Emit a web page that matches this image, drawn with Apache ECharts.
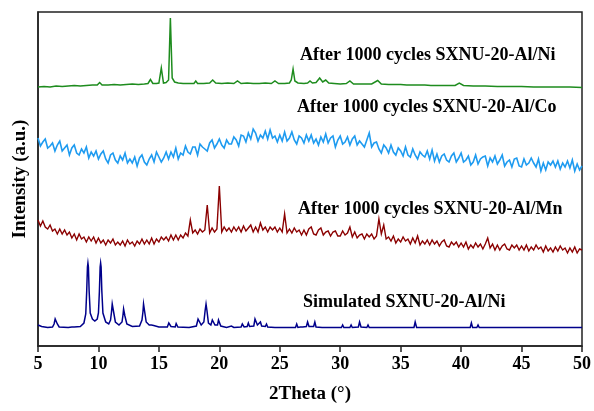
<!DOCTYPE html>
<html>
<head>
<meta charset="utf-8">
<script src="https://cdn.jsdelivr.net/npm/echarts@6/dist/echarts.min.js"></script>
<style>html,body{margin:0;padding:0;background:#fff;}#c{width:594px;height:411px;}</style>
</head>
<body>
<div id="c"></div>
<script>
// x tick labels
const xTicks = [5,10,15,20,25,30,35,40,45,50];

// sampling grid for the noisy scans (2Theta, degrees)
const scanTheta = [
5,5.2,5.4,5.6,5.8, 6,6.2,6.4,6.6,6.8, 7,7.2,7.4,7.6,7.8, 8,8.2,8.4,8.6,8.8, 9,9.2,9.4,9.6,9.8,
10,10.2,10.4,10.6,10.8, 11,11.2,11.4,11.6,11.8, 12,12.2,12.4,12.6,12.8, 13,13.2,13.4,13.6,13.8, 14,14.2,14.4,14.6,14.8,
15,15.2,15.4,15.6,15.8, 16,16.2,16.4,16.6,16.8, 17,17.2,17.4,17.6,17.8, 18,18.2,18.4,18.6,18.8, 19,19.2,19.4,19.6,19.8,
20,20.2,20.4,20.6,20.8, 21,21.2,21.4,21.6,21.8, 22,22.2,22.4,22.6,22.8, 23,23.2,23.4,23.6,23.8, 24,24.2,24.4,24.6,24.8,
25,25.2,25.4,25.6,25.8, 26,26.2,26.4,26.6,26.8, 27,27.2,27.4,27.6,27.8, 28,28.2,28.4,28.6,28.8, 29,29.2,29.4,29.6,29.8,
30,30.2,30.4,30.6,30.8, 31,31.2,31.4,31.6,31.8, 32,32.2,32.4,32.6,32.8, 33,33.2,33.4,33.6,33.8, 34,34.2,34.4,34.6,34.8,
35,35.2,35.4,35.6,35.8, 36,36.2,36.4,36.6,36.8, 37,37.2,37.4,37.6,37.8, 38,38.2,38.4,38.6,38.8, 39,39.2,39.4,39.6,39.8,
40,40.2,40.4,40.6,40.8, 41,41.2,41.4,41.6,41.8, 42,42.2,42.4,42.6,42.8, 43,43.2,43.4,43.6,43.8, 44,44.2,44.4,44.6,44.8,
45,45.2,45.4,45.6,45.8, 46,46.2,46.4,46.6,46.8, 47,47.2,47.4,47.6,47.8, 48,48.2,48.4,48.6,48.8, 49,49.2,49.4,49.6,49.8,
50];

// After 1000 cycles SXNU-20-Al/Co (offset intensity, a.u.)
const coValues = [
208,200,204,207,198, 200,203,195,201,205, 195,198,201,191,198, 201,193,191,197,193, 199,188,194,190,195,
187,192,195,187,183, 191,193,186,183,190, 186,193,183,187,183, 189,180,188,191,184, 181,187,191,184,194,
189,184,188,194,187, 194,189,198,187,193, 191,200,194,192,199, 199,191,202,199,197, 195,203,206,198,202,
207,201,198,206,202, 202,209,206,200,211, 210,204,213,207,217, 213,205,211,208,215, 207,216,208,210,204,
211,205,214,205,208, 214,206,202,210,208, 203,211,205,211,203, 207,201,209,204,212, 203,208,210,199,206,
210,202,204,209,201, 207,210,201,205,202, 199,206,213,199,203, 204,197,193,201,198, 193,201,194,191,198,
195,190,199,191,189, 197,191,187,194,191, 189,195,187,196,185, 192,184,190,192,186, 184,190,193,184,188,
193,184,186,190,181, 184,191,182,187,189, 190,180,188,184,190, 182,186,191,180,184, 186,179,187,188,180,
179,187,181,183,188, 183,179,187,175,183, 176,184,181,185,179, 185,177,183,179,185, 178,186,175,182,176,
180];

// After 1000 cycles SXNU-20-Al/Mn (offset intensity, a.u.)
const mnValues = [
126,120,125,119,117, 121,115,117,112,117, 112,116,111,114,108, 112,106,112,107,109, 104,109,105,109,103,
108,103,106,101,106, 103,107,101,104,101, 105,100,106,102,104, 100,105,102,107,102, 106,102,108,102,107,
104,109,106,109,105, 111,106,111,106,111, 108,113,110,126,113, 116,112,117,114,116, 141,113,118,114,117,
160,114,119,115,118, 114,119,115,119,114, 120,115,118,121,114, 119,114,123,116,119, 114,119,116,119,114,
118,114,132,113,117, 113,118,114,116,111, 116,111,117,119,112, 111,116,118,111,114, 115,110,114,115,110,
110,115,111,113,119, 109,114,108,111,112, 107,112,109,112,107, 110,127,112,121,107, 109,105,110,103,107,
104,109,105,107,102, 108,103,110,101,105, 102,106,101,106,102, 105,100,104,106,100, 99,104,101,104,99,
103,99,104,97,101, 98,103,99,102,97, 102,108,98,102,96, 101,96,100,102,97, 96,101,98,101,96,
100,96,101,95,99, 96,101,97,99,94, 100,95,98,94,99, 95,100,96,98,93, 98,94,99,93,97,
96];

// After 1000 cycles SXNU-20-Al/Ni [2Theta, offset intensity]
const niScan = [
[5,259],[5.5,259.5],[6,259],[6.5,260],[7,259.5],[7.5,260],[8,260.5],[8.5,260],[9,260.5],[9.5,261],
[9.9,261],[10.1,263.5],[10.3,261],[10.8,261],[11.3,261.5],[11.8,261],[12.3,261.5],[12.8,262],[13.3,261.5],[13.8,262],
[14.1,262.5],[14.3,266.5],[14.5,262.5],[14.8,262.5],[15.0,263],[15.2,278],[15.38,263],[15.6,263.5],[15.8,266],[15.95,328],
[16.1,268],[16.3,264],[16.6,263],[17,262.5],[17.5,262.5],[17.9,262.5],[18.05,265],[18.2,262.5],[18.7,262.5],[19.2,263],
[19.45,266],[19.7,263],[20.2,262.5],[20.7,263],[21.2,262.5],[21.5,265],[21.8,262.5],[22.3,263],[22.8,262.5],[23.3,262.5],
[23.8,263],[24.3,262.5],[24.6,265],[24.9,262.5],[25.4,262.5],[25.8,263],[25.95,266],[26.1,277],[26.25,265],[26.5,263],
[27,262.5],[27.3,263],[27.5,265],[27.7,263],[28.0,263.5],[28.3,268],[28.55,264],[28.8,266],[29.05,263],[29.5,262.5],
[30,262],[30.5,262.5],[30.8,265],[31.1,262],[31.6,262],[32.1,262],[32.6,262],[33.1,265.5],[33.4,262],[34,261.5],
[34.5,261.5],[35,261.5],[35.5,261],[36,261],[36.5,261],[37,261],[37.5,260.5],[38,260.5],[38.5,260.5],[39,260.5],
[39.5,260.5],[39.85,263],[40.2,260.5],[41,260],[42,260],[43,259.5],[44,259.5],[45,259.5],[46,259],[47,259],
[48,259],[49,259],[50,258.5]];

// Simulated SXNU-20-Al/Ni [2Theta, offset intensity]
const simScan = [
[5,21],[5.3,19.5],[5.8,18.5],[6.2,19],[6.33,22],[6.42,27],[6.46,29],[6.5,27],[6.6,22],[6.75,19],[7.5,18.5],[7.8,19],[7.9,20.5],[8.0,19],
[8.5,19.5],[8.8,23],[8.95,32],[9.03,55],[9.09,79],[9.13,83],[9.17,79],[9.23,55],[9.32,33],[9.5,27],[9.7,25],[9.9,27],[10.0,33],[10.08,55],
[10.14,79],[10.18,83],[10.22,79],[10.28,55],[10.37,33],[10.6,24],[10.85,22],[11.0,26],[11.08,34],[11.14,42],[11.17,44],[11.2,42],[11.27,33],[11.4,24],[11.7,21],
[11.95,24],[12.03,31],[12.08,37],[12.1,39],[12.13,37],[12.19,30],[12.35,22],[12.8,19.5],[13.4,20],[13.6,26],[13.68,34],[13.73,42],[13.75,44],[13.78,42],[13.84,33],
[13.95,24],[14.2,21],[14.38,21],[14.45,23],[14.49,23],[14.57,20.5],[15.0,19],[15.7,19],[15.82,23],[15.85,24],[15.88,23],[16.0,19.5],[16.35,19],[16.43,22.5],[16.47,22.5],
[16.57,19],[17.5,18.5],[18.1,20],[18.24,27],[18.3,29],[18.36,27],[18.5,21],[18.72,24],[18.83,36],[18.9,42],[18.97,36],[19.1,23],[19.3,21],[19.42,26],[19.47,28],[19.52,26],[19.64,21],
[19.85,21],[19.93,26],[19.97,27],[20.01,26],[20.12,20],[20.6,18.5],[21.0,20],[21.2,18.5],[21.8,19],[21.9,22],[22.05,19],[22.3,19.5],[22.4,23],
[22.5,19.5],[22.85,20],[22.95,27],[23.0,29],[23.05,27],[23.15,21],[23.3,20.5],[23.4,24],[23.5,20],[23.8,19.5],[23.9,22],[24.0,19],[24.6,18.5],
[24.7,20],[24.8,18.5],[25.7,18.5],[25.8,19.5],[25.9,18.5],[26.3,18.5],[26.4,22],[26.5,18.5],[26.7,19],[26.8,21],[26.9,19],
[27.2,19.5],[27.3,24],[27.42,19.5],[27.8,19.5],[27.9,24],[28.0,19],[28.5,18.5],[29.3,18.5],[29.4,19.5],[29.5,18.5],
[30.1,18.5],[30.2,21],[30.3,18.5],[30.8,18.5],[30.9,21],[31.0,18.5],[31.5,19],[31.6,24],[31.72,19],[32.2,18.5],[32.3,21],
[32.4,18.5],[32.9,18.5],[33.0,20],[33.1,18.5],[33.6,18.5],[33.7,19.5],[33.8,18.5],[34.4,18.5],[34.5,19.5],[34.6,18.5],
[35.2,18.5],[35.3,19.5],[35.4,18.5],[36.1,18.5],[36.2,24],[36.32,18.5],[37.2,18.5],[37.3,19.5],[37.4,18.5],[38.3,18.5],
[38.4,19.5],[38.5,18.5],[39.6,18.5],[39.7,20],[39.8,18.5],[40.75,18.5],[40.85,23],[40.95,18.5],[41.3,18.5],[41.4,21],
[41.5,18.5],[42.2,18.5],[42.3,20.5],[42.4,18.5],[43.1,18.5],[43.2,19.5],[43.3,18.5],[44.0,18.5],[44.1,19.5],[44.2,18.5],
[45.1,18.5],[45.2,19.5],[45.3,18.5],[46.0,18.5],[46.1,19.5],[46.2,18.5],[47.0,18.5],[47.1,19.5],[47.2,18.5],[48.3,18.5],
[48.4,19.5],[48.5,18.5],[49.2,18.5],[49.3,19.5],[49.4,18.5],[50,18.5]];

const seriesNames = [
  'After 1000 cycles SXNU-20-Al/Ni',
  'After 1000 cycles SXNU-20-Al/Co',
  'After 1000 cycles SXNU-20-Al/Mn',
  'Simulated SXNU-20-Al/Ni'
];

const coData = scanTheta.map((x, i) => [x, coValues[i]]);
const mnData = scanTheta.map((x, i) => [x, mnValues[i]]);

const FONT = '"Liberation Serif", "Times New Roman", serif';
const AX = '#222';

const chart = echarts.init(document.getElementById('c'), null, {renderer: 'canvas'});

function lineSeries(name, data, color, width) {
  return {
    name, type: 'line', data, showSymbol: false, symbol: 'none',
    lineStyle: {color, width, join: 'miter'}, itemStyle: {color}, silent: true, z: 2
  };
}

function labelText(text, x, y) {
  return {
    type: 'text', left: x, top: y, z: 10,
    style: {text, font: 'bold 18px ' + FONT, fill: '#000'}
  };
}

chart.setOption({
  animation: false,
  backgroundColor: '#fff',
  grid: {left: 38, right: 11, top: 12, bottom: 65, show: true, borderColor: AX, borderWidth: 1.5, backgroundColor: 'transparent'},
  xAxis: {
    type: 'value', min: 5, max: 50, interval: 5,
    name: '2Theta (°)', nameLocation: 'middle', nameGap: 39,
    nameTextStyle: {fontFamily: FONT, fontWeight: 'bold', fontSize: 19, color: '#000'},
    axisLine: {show: true, onZero: false, lineStyle: {color: AX, width: 1.5}},
    axisTick: {show: true, inside: false, length: 6, lineStyle: {color: AX, width: 1.5}},
    axisLabel: {fontFamily: FONT, fontWeight: 'bold', fontSize: 18, color: '#000', margin: 9,
      formatter: v => xTicks.includes(v) ? String(v) : ''},
    splitLine: {show: false}
  },
  yAxis: {
    type: 'value', min: 0, max: 334,
    name: 'Intensity (a.u.)', nameLocation: 'middle', nameGap: 8, nameRotate: 90,
    nameTextStyle: {fontFamily: FONT, fontWeight: 'bold', fontSize: 19, color: '#000'},
    axisLine: {show: true, lineStyle: {color: AX, width: 1.5}},
    axisTick: {show: false}, axisLabel: {show: false}, splitLine: {show: false}
  },
  series: [
    lineSeries(seriesNames[0], niScan, '#1E8C1E', 1.5),
    lineSeries(seriesNames[1], coData, '#1E9BF0', 1.6),
    lineSeries(seriesNames[2], mnData, '#8B0000', 1.4),
    lineSeries(seriesNames[3], simScan, '#00008B', 1.5)
  ],
  graphic: [
    labelText(seriesNames[0], 300, 46),
    labelText(seriesNames[1], 297, 98),
    labelText(seriesNames[2], 298, 200),
    labelText(seriesNames[3], 303, 293)
  ]
});
</script>
</body>
</html>
